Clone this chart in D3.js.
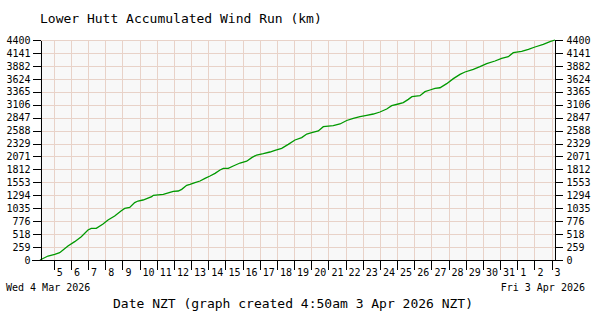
<!DOCTYPE html>
<html>
<head>
<meta charset="utf-8">
<script src="https://cdn.jsdelivr.net/npm/d3@7"></script>
<style>
  html, body { margin: 0; padding: 0; background: #ffffff; }
  svg { display: block; }
  text { font-family: "DejaVu Sans Mono", "Liberation Mono", monospace; fill: #000; }
</style>
</head>
<body>
<svg id="chart" width="600" height="320"></svg>
<script>
// ---- Data ----
const title = "Lower Hutt Accumulated Wind Run (km)";
const xAxisTitle = "Date NZT (graph created 4:50am 3 Apr 2026 NZT)";
const startLabel = "Wed 4 Mar 2026";
const endLabel = "Fri 3 Apr 2026";
const startTime = Date.UTC(2026, 2, 4, 4, 50);   // 4 Mar 2026 04:50 NZT
const endTime = Date.UTC(2026, 3, 3, 4, 50);     // 3 Apr 2026 04:50 NZT
const yTickValues = [0, 259, 518, 776, 1035, 1294, 1553, 1812, 2071, 2329, 2588, 2847, 3106, 3365, 3624, 3882, 4141, 4400];
const yMax = 4400;

// hours since startTime
const hoursSinceStart = [0, 11.2, 20.6, 27.5, 32.2, 39.1, 48.5, 57.7, 67.1, 71.7, 78.7, 88.1, 95.1, 104.4, 113.7, 118.4,
  125.4, 132.4, 137.0, 144.0, 156.2, 158.4, 172.4, 181.7, 186.4, 193.3, 198.1, 205.1, 209.7, 216.7, 223.7, 230.7,
  237.7, 244.7, 251.7, 256.3, 263.2, 270.2, 279.6, 289.0, 296.0, 302.9, 312.2, 321.5, 328.5, 337.9, 347.1, 356.5,
  365.9, 372.9, 379.9, 389.1, 396.1, 410.0, 419.4, 428.8, 438.0, 447.4, 456.7, 466.0, 475.3, 484.7, 491.7, 500.9,
  507.9, 514.9, 520.0, 531.2, 538.2, 545.2, 552.2, 559.2, 568.6, 577.9, 587.2, 594.2, 605.8, 615.1, 624.5, 636.1,
  645.4, 654.7, 661.7, 673.4, 682.8, 692.0, 703.6, 713.0, 720];
// accumulated wind run (km)
const windRun = [0, 80, 113, 147, 200, 280, 367, 467, 600, 633, 633, 720, 800, 880, 987, 1033,
  1053, 1147, 1180, 1200, 1267, 1293, 1313, 1353, 1373, 1380, 1413, 1493, 1513, 1547, 1580, 1633,
  1680, 1733, 1800, 1833, 1833, 1880, 1940, 1975, 2047, 2100, 2127, 2160, 2193, 2233, 2313, 2400,
  2447, 2520, 2547, 2580, 2667, 2687, 2720, 2790, 2833, 2867, 2893, 2920, 2960, 3020, 3087, 3120,
  3147, 3213, 3267, 3287, 3367, 3400, 3433, 3445, 3527, 3627, 3713, 3760, 3813, 3867, 3927, 3980,
  4033, 4067, 4147, 4173, 4213, 4260, 4313, 4367, 4400];

// ---- Layout ----
const mLeft = 40, mRight = 555, mTop = 40, mBottom = 260;
const svg = d3.select("#chart");

const x = d3.scaleUtc().domain([new Date(startTime), new Date(endTime)]).range([mLeft, mRight]);
const y = d3.scaleLinear().domain([0, yMax]).range([mBottom, mTop]);

const dayTicks = d3.utcDay.range(d3.utcDay.ceil(new Date(startTime)), new Date(endTime));

const points = hoursSinceStart.map((h, i) => ({ t: new Date(startTime + h * 3600000), v: windRun[i] }));

// plot background
svg.append("rect").attr("x", mLeft).attr("y", mTop).attr("width", mRight - mLeft).attr("height", mBottom - mTop)
  .attr("fill", "#f8f8f8");

// grid
const grid = svg.append("g").attr("stroke", "#e8d2c8").attr("stroke-width", 1).attr("shape-rendering", "crispEdges");
grid.selectAll("line.v").data(dayTicks).enter().append("line")
  .attr("x1", d => Math.round(x(d)) + 0.5).attr("x2", d => Math.round(x(d)) + 0.5)
  .attr("y1", mTop).attr("y2", mBottom);
grid.selectAll("line.h").data(yTickValues).enter().append("line")
  .attr("x1", mLeft).attr("x2", mRight)
  .attr("y1", d => Math.round(y(d)) + 0.5).attr("y2", d => Math.round(y(d)) + 0.5);

// line
const line = d3.line().x(d => x(d.t)).y(d => y(d.v));
svg.append("path").datum(points).attr("d", line)
  .attr("fill", "none").attr("stroke", "#009900").attr("stroke-width", 1.3);

// axes
const fontSize = "10px";
const yLeft = d3.axisLeft(y).tickValues(yTickValues).tickSize(8).tickSizeOuter(0).tickPadding(2).tickFormat(d3.format("d"));
const yRight = d3.axisRight(y).tickValues(yTickValues).tickSize(8).tickSizeOuter(0).tickPadding(4).tickFormat(d3.format("d"));
const xAxis = d3.axisBottom(x).tickValues(dayTicks).tickSize(9).tickSizeOuter(0).tickFormat(d3.utcFormat("%-d"));

function styleAxis(g) {
  g.attr("font-family", "DejaVu Sans Mono, monospace").attr("font-size", fontSize);
  g.selectAll("path, line").attr("stroke", "#000").attr("shape-rendering", "crispEdges");
  g.selectAll("text").attr("fill", "#000");
}

svg.append("g").attr("transform", `translate(${mLeft + 0.5},0)`).call(yLeft).call(styleAxis);
svg.append("g").attr("transform", `translate(${mRight - 0.5},0)`).call(yRight).call(styleAxis);
const gx = svg.append("g").attr("transform", `translate(0,${mBottom + 0.5})`).call(xAxis).call(styleAxis);
gx.selectAll(".tick text").attr("text-anchor", "start").attr("x", 2.5).attr("y", 0).attr("dy", "15.5px");
gx.select(".domain").attr("d", `M${mLeft - 8},0H${mRight + 8}`);

// titles
svg.append("text").attr("x", 40).attr("y", 23).attr("font-size", "13px").text(title);
svg.append("text").attr("x", 6).attr("y", 291).attr("font-size", "10px").text(startLabel);
svg.append("text").attr("x", 585).attr("y", 291).attr("font-size", "10px").attr("text-anchor", "end").text(endLabel);
svg.append("text").attr("x", 113).attr("y", 308).attr("font-size", "13px").text(xAxisTitle);
</script>
</body>
</html>
